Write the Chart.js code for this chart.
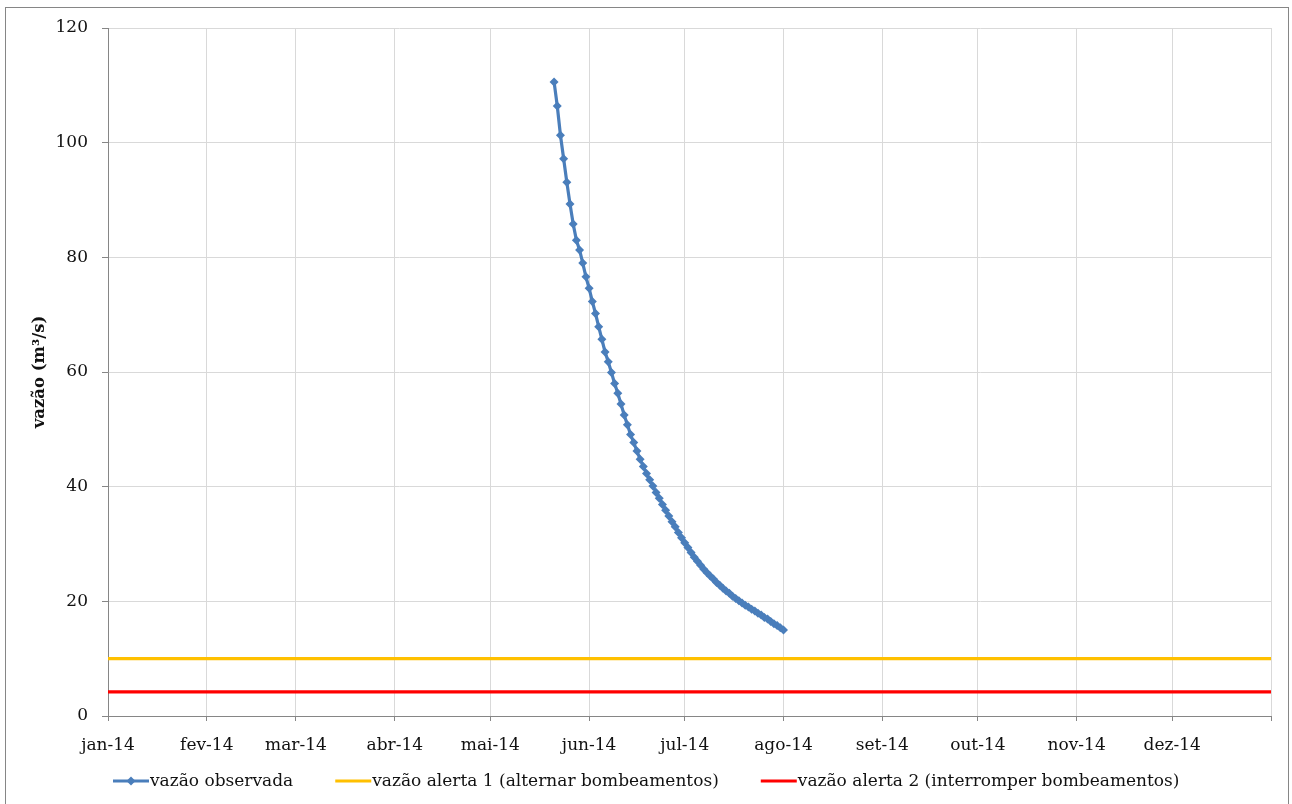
<!DOCTYPE html>
<html>
<head>
<meta charset="utf-8">
<script src="https://cdn.jsdelivr.net/npm/chart.js@4/dist/chart.umd.min.js"></script>
<style>
  html, body { margin: 0; padding: 0; background: #fff; }
  #wrap { width: 1292px; height: 804px; }
</style>
</head>
<body>
<div id="wrap"><canvas id="c" width="1292" height="804"></canvas></div>
<script>
// Month axis labels (2014)
const monthLabels = ['jan-14', 'fev-14', 'mar-14', 'abr-14', 'mai-14', 'jun-14',
                     'jul-14', 'ago-14', 'set-14', 'out-14', 'nov-14', 'dez-14'];
const yearStart = '2014-01-01';
const yearEnd = '2015-01-01';

// Daily observed discharge (m³/s), starting on obsStart
const obsStart = '2014-05-21';
const obsValues = [
  110.6, 106.4, 101.3, 97.2, 93.1, 89.3, 85.8, 83.0, 81.3, 79.0,
  76.6, 74.6, 72.3, 70.2, 67.9, 65.7, 63.5, 61.8, 59.9, 58.0,
  56.3, 54.4, 52.5, 50.8, 49.1, 47.7, 46.2, 44.8, 43.5, 42.3,
  41.2, 40.1, 39.0, 38.0, 36.9, 35.9, 34.9, 33.9, 33.0, 32.0,
  31.1, 30.2, 29.4, 28.5, 27.7, 27.0, 26.3, 25.6, 25.0, 24.4,
  23.9, 23.3, 22.8, 22.3, 21.8, 21.4, 20.9, 20.5, 20.1, 19.7,
  19.3, 19.0, 18.6, 18.3, 17.9, 17.6, 17.2, 16.9, 16.5, 16.1,
  15.8, 15.4, 15.0
];

// Alert thresholds (m³/s)
const alert1Value = 10;
const alert2Value = 4.2;

const seriesNames = [
  'vazão observada',
  'vazão alerta 1 (alternar bombeamentos)',
  'vazão alerta 2 (interromper bombeamentos)'
];
const yTicks = [0, 20, 40, 60, 80, 100, 120];

const DAY = 86400000;
const t0 = Date.parse(yearStart);
const dayOf = (iso) => Math.round((Date.parse(iso) - t0) / DAY);
const yearDays = dayOf(yearEnd);
const monthDays = monthLabels.map((_, m) => Math.round((Date.UTC(2014, m, 1) - t0) / DAY));
monthDays.push(yearDays);

const obsFirst = dayOf(obsStart);
const obsPoints = obsValues.map((v, i) => ({ x: obsFirst + i, y: v }));
const alert1Points = [{ x: 0, y: alert1Value }, { x: yearDays, y: alert1Value }];
const alert2Points = [{ x: 0, y: alert2Value }, { x: yearDays, y: alert2Value }];

const FONT = 'DejaVu Serif';
const AXIS = '#868686';
const GRID = '#d9d9d9';

// White background and outer frame
const framePlugin = {
  id: 'frame',
  beforeDraw(chart) {
    const ctx = chart.ctx;
    ctx.save();
    ctx.fillStyle = '#fff';
    ctx.fillRect(0, 0, chart.width, chart.height);
    ctx.strokeStyle = AXIS;
    ctx.lineWidth = 1;
    ctx.strokeRect(5.5, 7.5, 1283, 820);
    ctx.restore();
  }
};

// Legend row: line sample followed directly by the series name
const legendPlugin = {
  id: 'lineLegend',
  afterDraw(chart) {
    const ctx = chart.ctx;
    const sample = 36, textGap = 1, itemGap = 42, y = 781;
    ctx.save();
    ctx.font = '17px "' + FONT + '"';
    ctx.textBaseline = 'middle';
    const items = chart.data.datasets.map(ds => ({
      ds, w: sample + textGap + ctx.measureText(ds.label).width
    }));
    const total = items.reduce((s, it) => s + it.w, 0) + itemGap * (items.length - 1);
    let x = Math.round(chart.width / 2 - total / 2);
    items.forEach(({ ds, w }) => {
      ctx.strokeStyle = ds.borderColor;
      ctx.lineWidth = ds.borderWidth;
      ctx.beginPath();
      ctx.moveTo(x, y);
      ctx.lineTo(x + sample, y);
      ctx.stroke();
      if (ds.pointRadius > 0) {
        const r = ds.pointRadius, cx = x + sample / 2;
        ctx.fillStyle = ds.pointBackgroundColor;
        ctx.beginPath();
        ctx.moveTo(cx, y - r);
        ctx.lineTo(cx + r, y);
        ctx.lineTo(cx, y + r);
        ctx.lineTo(cx - r, y);
        ctx.closePath();
        ctx.fill();
      }
      ctx.fillStyle = '#111';
      ctx.fillText(ds.label, x + sample + textGap, y + 1);
      x += w + itemGap;
    });
    ctx.restore();
  }
};

new Chart(document.getElementById('c'), {
  type: 'line',
  data: {
    datasets: [
      {
        label: seriesNames[0],
        data: obsPoints,
        borderColor: '#4A7EBB',
        backgroundColor: '#4A7EBB',
        pointBackgroundColor: '#4A7EBB',
        pointBorderColor: '#4A7EBB',
        pointStyle: 'rectRot',
        pointRadius: 4.5,
        pointBorderWidth: 0,
        borderWidth: 3.2,
        tension: 0,
        order: 0
      },
      {
        label: seriesNames[1],
        data: alert1Points,
        borderColor: '#FFC000',
        backgroundColor: '#FFC000',
        pointRadius: 0,
        borderWidth: 3.2,
        order: 1
      },
      {
        label: seriesNames[2],
        data: alert2Points,
        borderColor: '#FF0000',
        backgroundColor: '#FF0000',
        pointRadius: 0,
        borderWidth: 3.2,
        order: 2
      }
    ]
  },
  options: {
    responsive: false,
    animation: false,
    layout: { padding: { top: 28, right: 21, left: 0, bottom: 0 } },
    plugins: {
      legend: { display: false },
      tooltip: { enabled: false }
    },
    scales: {
      x: {
        type: 'linear',
        min: 0,
        max: yearDays,
        afterBuildTicks(scale) {
          scale.ticks = monthDays.map(v => ({ value: v }));
        },
        afterFit(scale) { scale.height = 88; },
        ticks: {
          autoSkip: false,
          maxRotation: 0,
          padding: 14,
          color: '#111',
          font: { family: FONT, size: 17 },
          callback: (v) => {
            const i = monthDays.indexOf(v);
            return i >= 0 && i < monthLabels.length ? monthLabels[i] : '';
          }
        },
        grid: { color: GRID, lineWidth: 1, tickColor: AXIS, tickLength: 5 },
        border: { color: AXIS, width: 1 }
      },
      y: {
        min: 0,
        max: 120,
        afterBuildTicks(scale) {
          scale.ticks = yTicks.map(v => ({ value: v }));
        },
        afterFit(scale) { scale.width = 108; },
        ticks: {
          padding: 14,
          color: '#111',
          font: { family: FONT, size: 17 }
        },
        grid: { color: GRID, lineWidth: 1, tickColor: AXIS, tickLength: 6 },
        border: { color: AXIS, width: 1 },
        title: {
          display: true,
          text: 'vazão (m³/s)',
          color: '#111',
          font: { family: FONT, size: 16.5, weight: 'bold' },
          padding: { top: 30, bottom: 0 }
        }
      }
    }
  },
  plugins: [framePlugin, legendPlugin]
});
</script>
</body>
</html>
